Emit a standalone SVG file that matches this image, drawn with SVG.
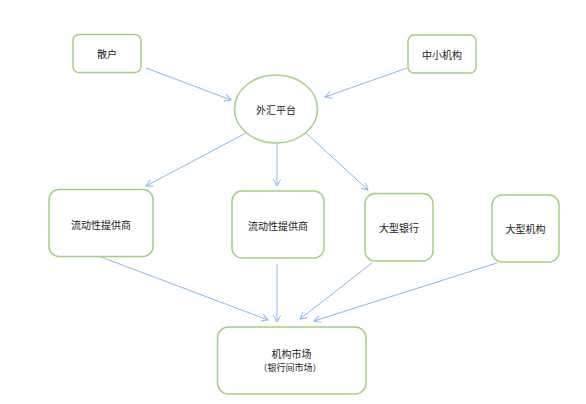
<svg xmlns="http://www.w3.org/2000/svg" width="586" height="404" viewBox="0 0 586 404">
<defs>
<style>
.n{fill:#fff;stroke:#a3cf7f;stroke-width:1.5}
.t{font-family:"Noto Sans CJK SC","Noto Sans",sans-serif;font-size:10px;fill:#222;text-anchor:middle;dominant-baseline:central}
.e{stroke:#85b9ea;stroke-width:1;fill:none;marker-end:url(#ah)}
</style>
<marker id="ah" markerUnits="userSpaceOnUse" markerWidth="10" markerHeight="10" refX="7" refY="4" orient="auto">
<path d="M0.5,0.5 L7,4 L0.5,7.5" fill="none" stroke="#85b9ea" stroke-width="1"/>
</marker>
</defs>
<rect width="586" height="404" fill="#fff"/>
<g id="connectors">
<line class="e" x1="146" y1="68" x2="231" y2="100"/>
<line class="e" x1="407" y1="68" x2="325" y2="97"/>
<line class="e" x1="246" y1="133" x2="146" y2="186"/>
<line class="e" x1="277" y1="143" x2="277" y2="186"/>
<line class="e" x1="306" y1="133" x2="368" y2="190"/>
<line class="e" x1="101" y1="257" x2="268" y2="320"/>
<line class="e" x1="277" y1="264" x2="277" y2="322"/>
<line class="e" x1="372" y1="263" x2="300" y2="319"/>
<line class="e" x1="497" y1="263" x2="314" y2="321"/>
</g>
<g id="sanhu">
<rect class="n" x="73" y="34.5" width="68" height="38" rx="6"/>
<text class="t" x="107" y="53.5">散户</text>
</g>
<g id="zhongxiao">
<rect class="n" x="408" y="35" width="68" height="38" rx="6"/>
<text class="t" x="442" y="54">中小机构</text>
</g>
<g id="waihui">
<ellipse class="n" cx="276" cy="109" rx="41.5" ry="34"/>
<text class="t" x="276" y="109">外汇平台</text>
</g>
<g id="lp1">
<rect class="n" x="49" y="189.5" width="104" height="67" rx="10"/>
<text class="t" x="101" y="224">流动性提供商</text>
</g>
<g id="lp2">
<rect class="n" x="232" y="191" width="92" height="67" rx="10"/>
<text class="t" x="278" y="225">流动性提供商</text>
</g>
<g id="bigbank">
<rect class="n" x="365" y="193.5" width="68" height="67.5" rx="10"/>
<text class="t" x="399" y="227">大型银行</text>
</g>
<g id="biginst">
<rect class="n" x="492" y="195" width="67" height="67" rx="10"/>
<text class="t" x="525.5" y="228">大型机构</text>
</g>
<g id="market">
<rect class="n" x="217.5" y="327" width="148.5" height="67" rx="11"/>
<text class="t" x="291.5" y="353">机构市场</text>
<text class="t" x="290" y="367.5" style="font-size:9px">（银行间市场）</text>
</g>
</svg>
